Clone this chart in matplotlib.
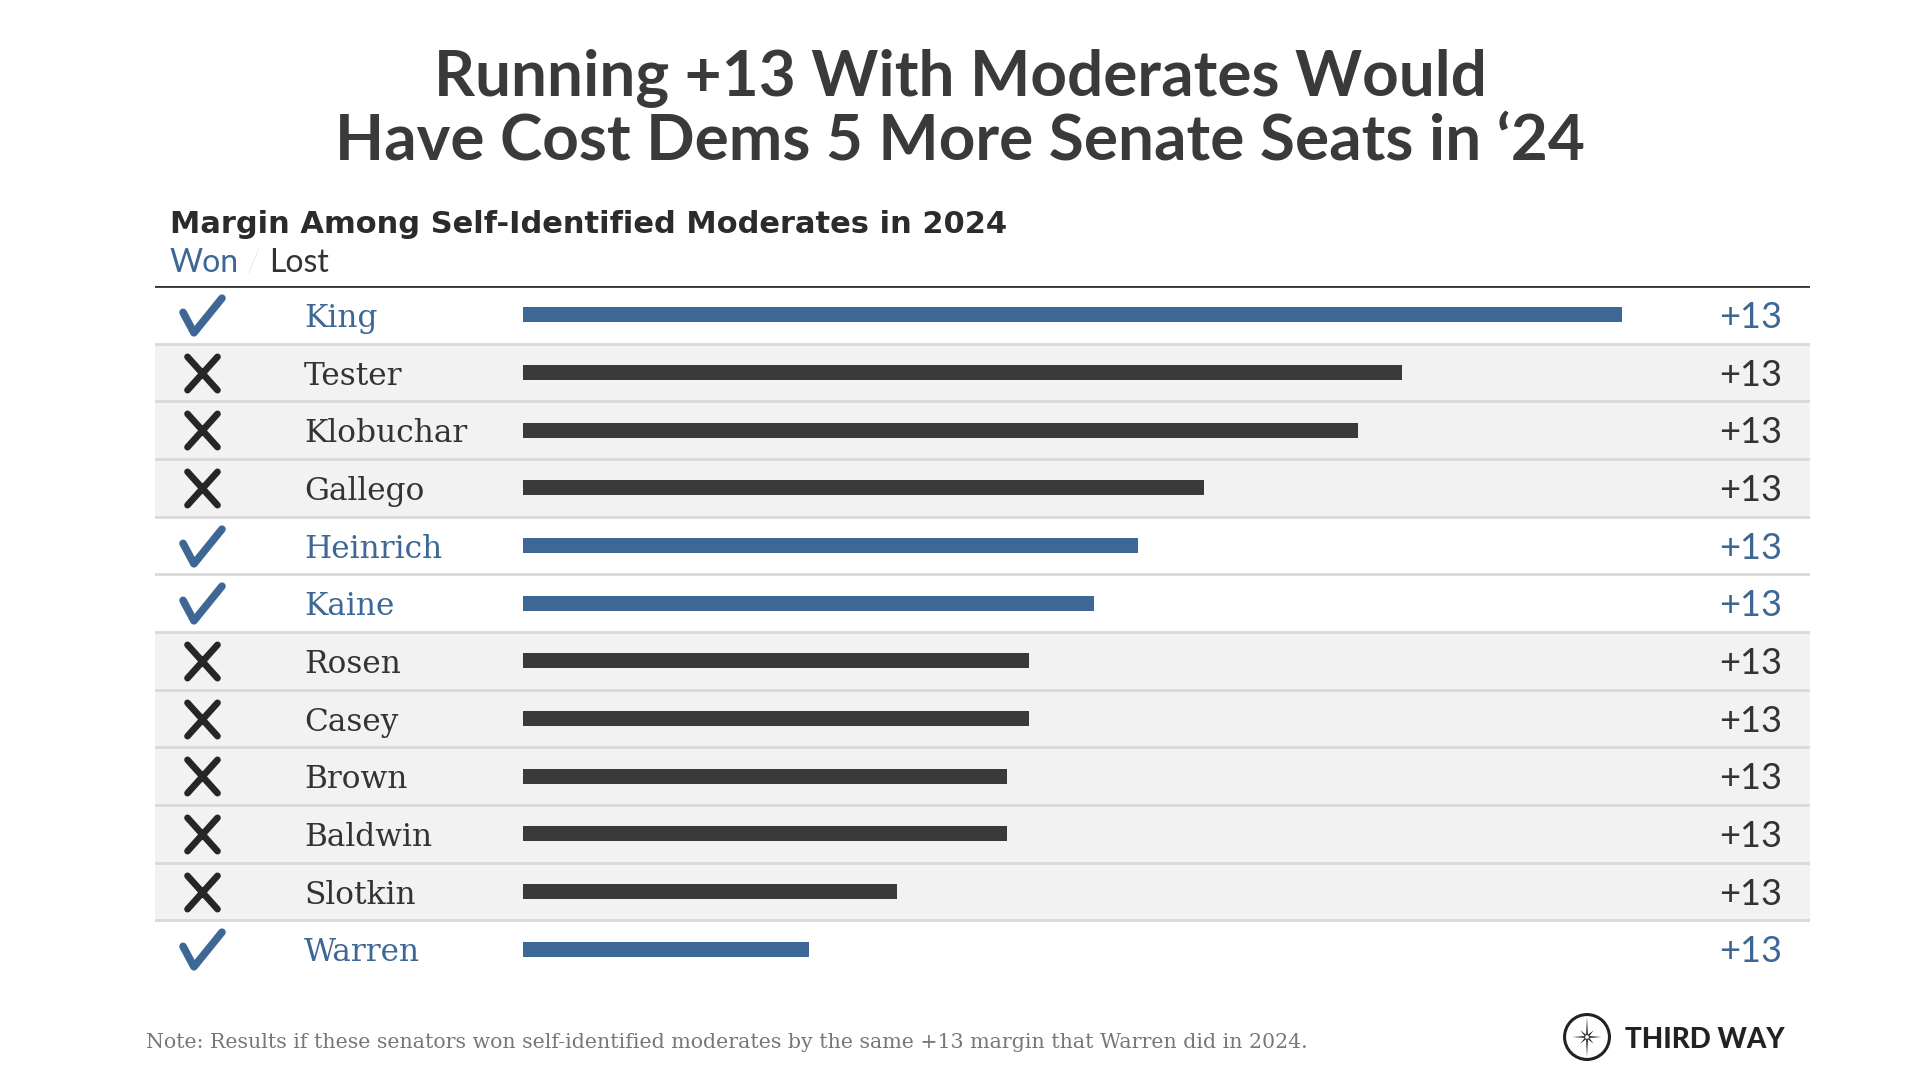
import matplotlib
matplotlib.use("Agg")
import matplotlib.pyplot as plt
import matplotlib.transforms as mtransforms
from matplotlib.markers import MarkerStyle
from matplotlib.path import Path
import matplotlib.patches as mpatches
import numpy as np

# data
senators = ['King', 'Tester', 'Klobuchar', 'Gallego', 'Heinrich', 'Kaine',
            'Rosen', 'Casey', 'Brown', 'Baldwin', 'Slotkin', 'Warren']
margins = [50, 40, 38, 31, 28, 26, 23, 23, 22, 22, 17, 13]
won = [True, False, False, False, True, True,
       False, False, False, False, False, True]
labels = ['+13'] * len(senators)

BLUE = '#3d6895'
DARK = '#3a3a3a'
BAND = '#f2f2f2'
SEP = '#d9d9d9'

W, H = 1920, 1080
fig = plt.figure(figsize=(19.2, 10.8), dpi=100)
fig.patch.set_facecolor('white')

# table axes (pixel layout)
left, right, top, bottom = 155, 1810, 286, 978
bar0, bar_king = 523, 1622
ax = fig.add_axes([left / W, 1 - bottom / H, (right - left) / W, (bottom - top) / H])
s = (bar_king - bar0) / max(margins)
ax.set_xlim(-(bar0 - left) / s, (right - bar0) / s)
n = len(senators)
ax.set_ylim(n - 0.5, -0.5)
ax.axis('off')

y = np.arange(n)
for i in range(n):
    if not won[i]:
        ax.axhspan(i - 0.5, i + 0.5, color=BAND, zorder=0, lw=0)
for i in range(n - 1):
    ax.axhline(i + 0.5, color=SEP, lw=2, zorder=1)
ax.axhline(-0.5, color='#333333', lw=2, zorder=2)

colors = [BLUE if w else DARK for w in won]
ax.barh(y, margins, height=0.26, color=colors, zorder=3)

trans = mtransforms.blended_transform_factory(ax.transAxes, ax.transData)

# check / cross markers
check = Path([(-1.0, 0.16), (-0.44, -0.89), (1.0, 0.89)],
             [Path.MOVETO, Path.LINETO, Path.LINETO])
cross = Path([(-0.9, 1.0), (0.9, -1.0), (-0.9, -1.0), (0.9, 1.0)],
             [Path.MOVETO, Path.LINETO, Path.MOVETO, Path.LINETO])
mx = (202 - left) / (right - left)
for i in range(n):
    if won[i]:
        m = MarkerStyle(check, capstyle='round', joinstyle='round')
        ax.plot([mx], [y[i]], marker=m, markersize=28, mfc='none', mec=BLUE,
                mew=5.5, transform=trans, zorder=4, clip_on=False)
    else:
        m = MarkerStyle(cross, capstyle='round', joinstyle='round')
        ax.plot([mx], [y[i]], marker=m, markersize=24, mfc='none', mec='#262626',
                mew=4.8, transform=trans, zorder=4, clip_on=False)

nx = (304 - left) / (right - left)
vx = (1782 - left) / (right - left)
for i in range(n):
    c = BLUE if won[i] else '#333333'
    ax.text(nx, y[i] + 0.21, senators[i], transform=trans, ha='left', va='baseline',
            fontsize=22.5, family='DejaVu Serif', color=c, zorder=5)
    ax.text(vx, y[i] + 0.23, labels[i], transform=trans, ha='right', va='baseline',
            fontsize=26, family='Lato', fontweight='normal', color=c, zorder=5)

# titles
fig.text(0.5, 1 - 95 / H, 'Running +13 With Moderates Would', ha='center', va='baseline',
         fontsize=46, family='Lato', fontweight='bold', color='#3a3a3a')
fig.text(0.5, 1 - 159 / H, 'Have Cost Dems 5 More Senate Seats in \u201824', ha='center',
         va='baseline', fontsize=46, family='Lato', fontweight='bold', color='#3a3a3a')
fig.text(170 / W, 1 - 233 / H, 'Margin Among Self-Identified Moderates in 2024',
         ha='left', va='baseline', fontsize=22, family='DejaVu Sans', fontweight='bold',
         color='#2b2b2b')
t1 = fig.text(170 / W, 1 - 272 / H, 'Won', ha='left', va='baseline', fontsize=23,
              family='Lato', color=BLUE)
fig.canvas.draw()
bb = t1.get_window_extent()
t2 = fig.text((bb.x1 + 8) / W, 1 - 272 / H, '/', ha='left', va='baseline', fontsize=23,
              family='Lato', fontweight='light', color='#c8c8c8')
bb = t2.get_window_extent()
fig.text((bb.x1 + 8) / W, 1 - 272 / H, 'Lost', ha='left', va='baseline', fontsize=23,
         family='Lato', color='#333333')

# note
fig.text(146 / W, 1 - 1048 / H,
         'Note: Results if these senators won self-identified moderates by the same +13 margin that Warren did in 2024.',
         ha='left', va='baseline', fontsize=14.8, family='DejaVu Serif', color='#777777')

# logo
lax = fig.add_axes([(1587 - 26) / W, 1 - (1037 + 26) / H, 52 / W, 52 / H])
lax.set_xlim(-1.1, 1.1)
lax.set_ylim(-1.1, 1.1)
lax.set_aspect('equal')
lax.axis('off')
lax.add_patch(mpatches.Circle((0, 0), 0.95, fill=False, lw=2.2, ec='#222222'))
pts = []
for k in range(16):
    a = np.pi / 2 + k * np.pi / 8
    if k % 4 == 0:
        r = 0.85 if k % 8 == 0 else 0.62
    elif k % 2 == 0:
        r = 0.4
    else:
        r = 0.1
    pts.append((r * np.cos(a), r * np.sin(a)))
lax.add_patch(mpatches.Polygon(pts, closed=True, fc='#222222', ec='none'))
lax.add_patch(mpatches.Circle((0, 0), 0.08, fc='white', ec='none'))
fig.text(1625 / W, 1 - 1048 / H, 'THIRD WAY', ha='left', va='baseline', fontsize=20,
         family='Lato', fontweight='black', color='#222222')

fig.savefig('out.png', dpi=100, facecolor='white')
